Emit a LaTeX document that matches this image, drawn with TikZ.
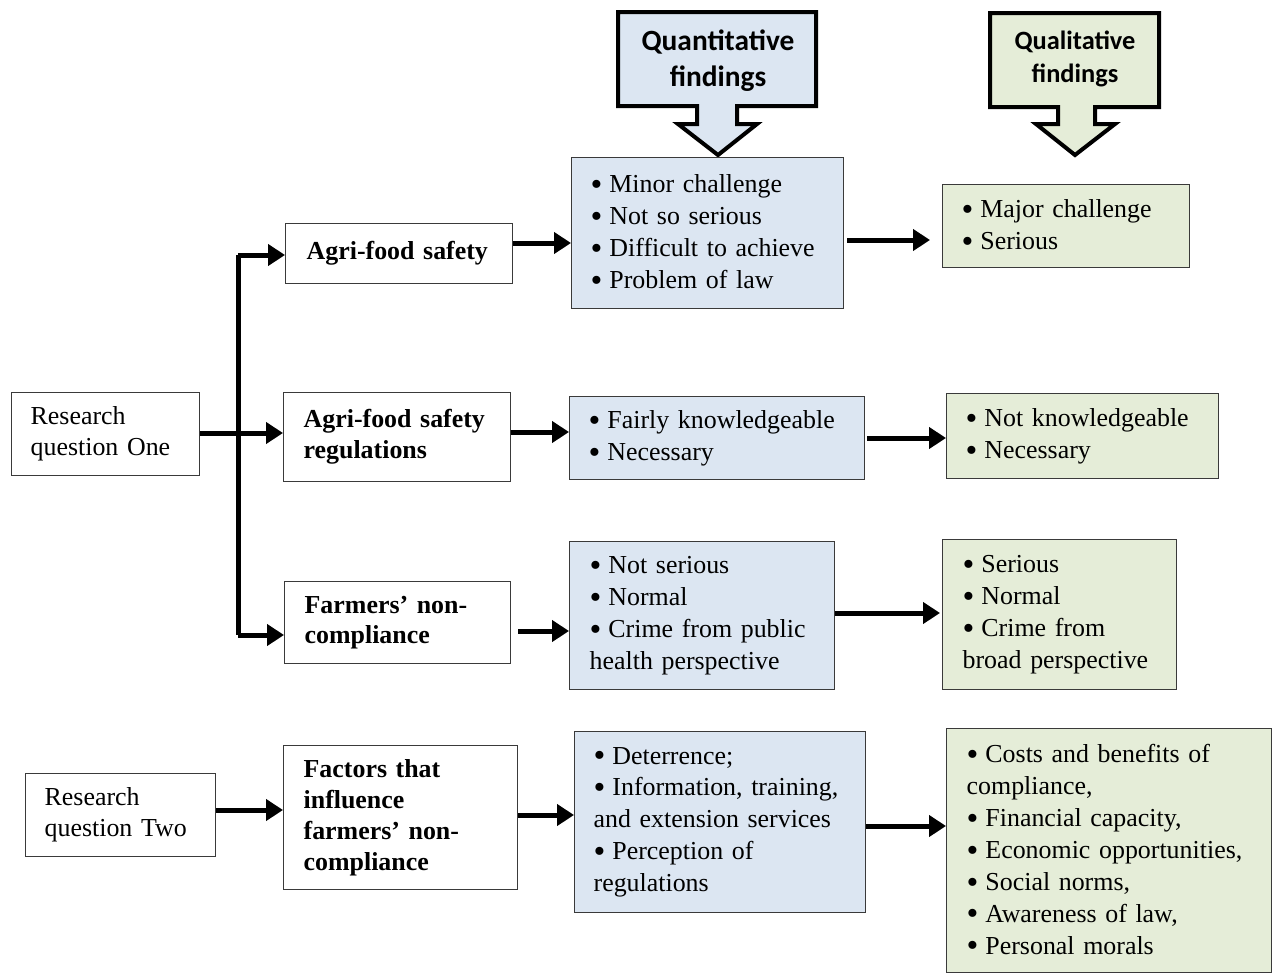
\documentclass[tikz,border=0pt]{standalone}
\usepackage{fontspec}
\setmainfont{Liberation Serif}
\newfontfamily\headfont{Carlito}
\usetikzlibrary{arrows.meta,calc}
\definecolor{qblue}{HTML}{DCE6F2}
\definecolor{qgreen}{HTML}{E5EDD8}
\definecolor{edgegray}{HTML}{3A3A3A}
% a slightly heavier list bullet, kept on the middle of the line
\newcommand\bul{\raisebox{-2.8bp}{\scalebox{1.3}{•}}\hspace{7bp}}

\begin{document}
\begin{tikzpicture}[x=1bp,y=-1bp,
  box/.style={draw=edgegray, line width=1.3bp, anchor=north west, align=left,
    inner xsep=19bp, inner ysep=0bp, text=black,
    font=\fontsize{26}{32}\selectfont},
  bbox/.style={box, font=\fontsize{26}{31}\selectfont\bfseries},
  blue/.style={box, fill=qblue},
  green/.style={box, fill=qgreen},
  arr/.style={line width=5bp, -{Triangle[length=17bp,width=21bp]}},
  trunk/.style={line width=5bp},
  callout/.style={line width=4bp, draw=black, line join=miter},
  head/.style={align=center, font=\headfont\bfseries, text=black}
]
\useasboundingbox (0,0) rectangle (1272,974);

% header callouts
\filldraw[callout, fill=qblue] (618,12) -- (816,12) -- (816,106) -- (737,106) -- (737,124)
  -- (757,124) -- (718,155) -- (678,124) -- (697,124) -- (697,106) -- (618,106) -- cycle;
\node[head, font=\headfont\bfseries\fontsize{29.5}{36}\selectfont] (quant) at (718,61) {Quantitative\\findings};
\filldraw[callout, fill=qgreen] (990,13) -- (1159,13) -- (1159,107) -- (1095,107) -- (1095,124)
  -- (1115,124) -- (1075,155) -- (1036,124) -- (1058,124) -- (1058,107) -- (990,107) -- cycle;
\node[head, font=\headfont\bfseries\fontsize{26.5}{33}\selectfont] (qual) at (1075,59) {Qualitative\\findings};

% left column
\node[box, text width=150bp, minimum height=83bp, font=\fontsize{26}{31}\selectfont] (rq1) at (11,392) {Research\\question One};
\node[box, text width=152bp, minimum height=83bp, font=\fontsize{26}{31}\selectfont] (rq2) at (25,773) {Research\\question Two};

% topics
\node[bbox, inner xsep=21bp, text width=185bp, minimum height=60bp] (safety) at (285,223) {Agri-food safety};
\node[bbox, inner xsep=20bp, text width=187bp, minimum height=89bp] (reg) at (283,392) {Agri-food safety\\regulations};
\node[bbox, inner xsep=20bp, text width=186bp, minimum height=82bp] (farm) at (284,581) {Farmers’ non-\\compliance};
\node[bbox, inner xsep=20bp, text width=194bp, minimum height=144bp] (fac) at (283,745) {Factors that\\influence\\farmers’ non-\\compliance};

% quantitative findings
\node[blue, text width=234bp, minimum height=151bp] (b1) at (571,157)
  {\bul Minor challenge\\\bul Not so serious\\\bul Difficult to achieve\\\bul Problem of law};
\node[blue, text width=257bp, minimum height=83bp] (b2) at (569,396)
  {\bul Fairly knowledgeable\\\bul Necessary};
\node[blue, inner xsep=20bp, text width=225bp, minimum height=148bp] (b3) at (569,541)
  {\bul Not serious\\\bul Normal\\\bul Crime from public\\health perspective};
\node[blue, text width=253bp, minimum height=181bp] (b4) at (574,731)
  {\bul Deterrence;\\\bul Information, training,\\and extension services\\\bul Perception of\\regulations};

% qualitative findings
\node[green, text width=209bp, minimum height=83bp] (g1) at (942,184)
  {\bul Major challenge\\\bul Serious};
\node[green, text width=234bp, minimum height=85bp] (g2) at (946,393)
  {\bul Not knowledgeable\\\bul Necessary};
\node[green, inner xsep=20bp, text width=194bp, minimum height=150bp] (g3) at (942,539)
  {\bul Serious\\\bul Normal\\\bul Crime from\\broad perspective};
\node[green, inner xsep=20bp, text width=285bp, minimum height=244bp] (g4) at (946,728)
  {\bul Costs and benefits of\\compliance,\\\bul Financial capacity,\\\bul Economic opportunities,\\\bul Social norms,\\\bul Awareness of law,\\\bul Personal morals};

% branching connector of research question one
\coordinate (tr) at (238,0);
\draw[trunk] (tr |- 0,255) -- (tr |- 0,635);
\draw[arr] (tr |- 0,255) -- (safety.west |- 0,255);
\draw[arr] (tr |- 0,635) -- (farm.west |- 0,635);
\draw[arr] (rq1.east |- 0,433) -- (reg.west |- 0,433);
\draw[arr] (rq2.east |- 0,810) -- (fac.west |- 0,810);

% topic to findings
\draw[arr] (safety.east |- 0,243) -- (b1.west |- 0,243);
\draw[arr] (reg.east |- 0,432) -- (b2.west |- 0,432);
\draw[arr, shorten <=7bp] (farm.east |- 0,631) -- (b3.west |- 0,631);
\draw[arr] (fac.east |- 0,815) -- (b4.west |- 0,815);

\draw[arr, shorten <=3bp, shorten >=12bp] (b1.east |- 0,240) -- (g1.west |- 0,240);
\draw[arr, shorten <=2bp] (b2.east |- 0,438) -- (g2.west |- 0,438);
\draw[arr, shorten >=2bp] (b3.east |- 0,613) -- (g3.west |- 0,613);
\draw[arr] (b4.east |- 0,826) -- (g4.west |- 0,826);
\end{tikzpicture}
\end{document}
